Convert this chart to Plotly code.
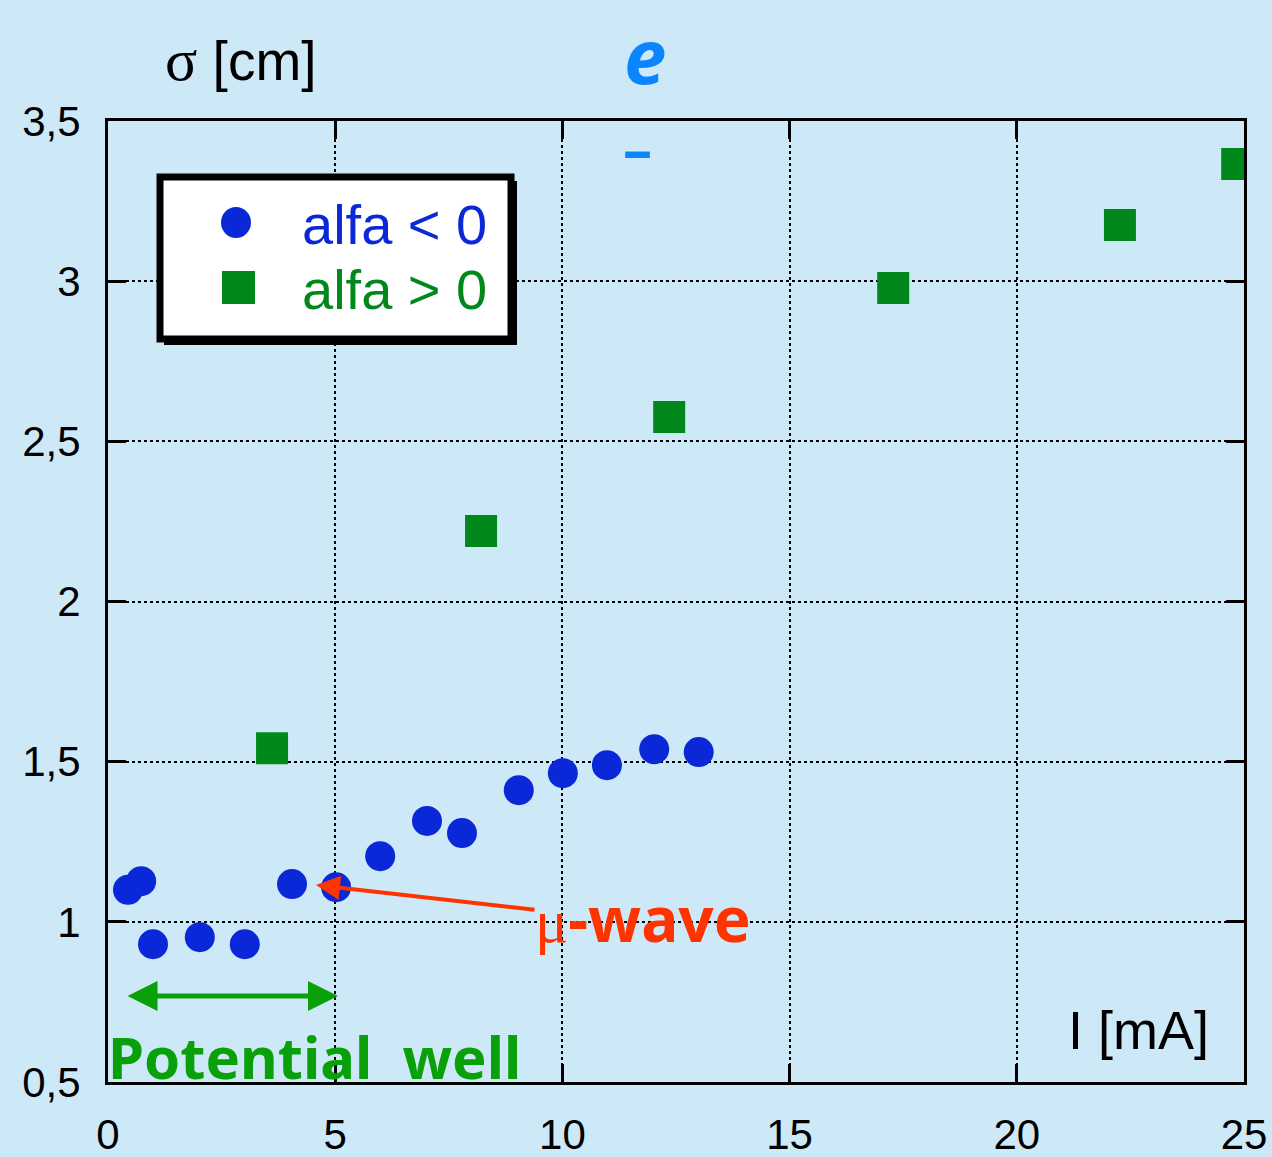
import plotly.graph_objects as go

# ---- data ----
blue_x = [0.44, 0.73, 0.99, 2.02, 3.01, 4.05, 5.02, 5.99, 7.02, 7.79, 9.04, 10.01, 10.98, 12.02, 13.0]
blue_y = [1.10, 1.127, 0.93, 0.952, 0.93, 1.118, 1.108, 1.205, 1.315, 1.277, 1.411, 1.464, 1.489, 1.539, 1.53]
green_x = [3.61, 8.21, 12.35, 17.28, 22.27, 24.85]
green_y = [1.542, 2.22, 2.576, 2.979, 3.175, 3.366]
x_ticks = [0, 5, 10, 15, 20, 25]
x_tick_labels = ["0", "5", "10", "15", "20", "25"]
y_ticks = [0.5, 1, 1.5, 2, 2.5, 3, 3.5]
y_tick_labels = ["0,5", "1", "1,5", "2", "2,5", "3", "3,5"]

BG = "#cde8f6"
BLUE = "#0a28d8"
GREEN = "#00891a"

W, H = 1272, 1157
L, R, T, B = 108, 1244, 121, 1082

def X(px):
    return (px - L) / (R - L) * 25.0

def Y(py):
    return 3.5 - (py - T) / (B - T) * 3.0

def PX(px):
    return (px - L) / (R - L)

def PY(py):
    return (B - py) / (B - T)

fig = go.Figure()
fig.add_trace(go.Scatter(x=blue_x, y=blue_y, mode="markers",
                         marker=dict(symbol="circle", size=30, color=BLUE), showlegend=False))
fig.add_trace(go.Scatter(x=green_x, y=green_y, mode="markers",
                         marker=dict(symbol="square", size=32, color=GREEN), showlegend=False))

axis_common = dict(showline=True, linecolor="black", linewidth=3, mirror="ticks",
                   ticks="inside", ticklen=18, tickwidth=3, tickcolor="black",
                   showgrid=True, gridcolor="black", griddash="dot", gridwidth=2,
                   zeroline=False, automargin=False,
                   tickfont=dict(family="Liberation Sans", size=42, color="black"))

fig.update_xaxes(range=[0, 25], tickvals=x_ticks, ticktext=x_tick_labels,
                 ticklabelstandoff=14, **axis_common)
fig.update_yaxes(range=[0.5, 3.5], tickvals=y_ticks, ticktext=y_tick_labels,
                 ticklabelstandoff=16, **axis_common)

shapes = []
# legend box: shadow + white box
shapes.append(dict(type="rect", xref="x", yref="y", x0=X(164), x1=X(517), y0=Y(345), y1=Y(181),
                   fillcolor="black", line=dict(width=0), layer="above"))
shapes.append(dict(type="rect", xref="x", yref="y", x0=X(160), x1=X(511), y0=Y(339), y1=Y(177),
                   fillcolor="white", line=dict(color="black", width=7), layer="above"))
shapes.append(dict(type="circle", xref="x", yref="y", x0=X(221), x1=X(251), y0=Y(238), y1=Y(207),
                   fillcolor=BLUE, line=dict(width=0), layer="above"))
shapes.append(dict(type="rect", xref="x", yref="y", x0=X(222), x1=X(255), y0=Y(304), y1=Y(271),
                   fillcolor=GREEN, line=dict(width=0), layer="above"))

annotations = []
annotations.append(dict(x=X(489), y=Y(224), xref="x", yref="y", text="alfa &lt; 0", showarrow=False,
                        xanchor="right", yanchor="middle",
                        font=dict(family="Liberation Sans", size=56, color=BLUE)))
annotations.append(dict(x=X(489), y=Y(289), xref="x", yref="y", text="alfa &gt; 0", showarrow=False,
                        xanchor="right", yanchor="middle",
                        font=dict(family="Liberation Sans", size=56, color=GREEN)))
# axis titles (paper coords, outside plot)
annotations.append(dict(x=PX(241), y=PY(60), xref="paper", yref="paper",
                        text="<span style='font-family:Liberation Serif;font-size:60px'>σ</span> [cm]",
                        showarrow=False, xanchor="center", yanchor="middle",
                        font=dict(family="Liberation Sans", size=55, color="black")))
annotations.append(dict(x=X(1138), y=Y(1030), xref="x", yref="y", text="I [mA]", showarrow=False,
                        xanchor="center", yanchor="middle",
                        font=dict(family="Liberation Sans", size=54, color="black")))
# e-
annotations.append(dict(x=PX(645), y=PY(1), xref="paper", yref="paper", text="<b><i>e</i></b>",
                        showarrow=False, xanchor="center", yanchor="top",
                        font=dict(family="Noto Sans", size=76, color="#0a84ff")))
annotations.append(dict(x=X(637), y=Y(147), xref="x", yref="y", text="<b>–</b>", showarrow=False,
                        xanchor="center", yanchor="middle",
                        font=dict(family="Noto Sans", size=58, color="#0a84ff")))
# mu-wave arrow
annotations.append(dict(x=X(316), y=Y(885), ax=X(536), ay=Y(910), xref="x", yref="y",
                        axref="x", ayref="y", text="", showarrow=True, arrowhead=2,
                        arrowsize=1.2, arrowwidth=4, arrowcolor="#ff3300"))
annotations.append(dict(x=X(533), y=Y(918), xref="x", yref="y",
                        text="<span style='font-family:Liberation Serif;font-weight:normal'>μ</span><b>-wave</b>",
                        showarrow=False, xanchor="left", yanchor="middle",
                        font=dict(family="Noto Sans", size=62, color="#ff3300")))
# potential well double arrow
annotations.append(dict(x=X(338), y=Y(996), ax=X(126), ay=Y(996), xref="x", yref="y",
                        axref="x", ayref="y", text="", showarrow=True, arrowhead=2, startarrowhead=2,
                        arrowside="end+start", arrowsize=1.2, startarrowsize=1.2, arrowwidth=5,
                        arrowcolor="#0aa00a"))
annotations.append(dict(x=PX(106), y=PY(1056), xref="paper", yref="paper", text="<b>Potential  well</b>",
                        showarrow=False, xanchor="left", yanchor="middle",
                        font=dict(family="Noto Sans", size=58, color="#0aa00a")))

fig.update_layout(width=W, height=H, paper_bgcolor=BG, plot_bgcolor=BG,
                  margin=dict(l=L, r=W - R, t=T, b=H - B, pad=0),
                  shapes=shapes, annotations=annotations, showlegend=False)

fig.write_html("out.html", config={"displayModeBar": False},
               post_script="document.body.style.margin='0';")
